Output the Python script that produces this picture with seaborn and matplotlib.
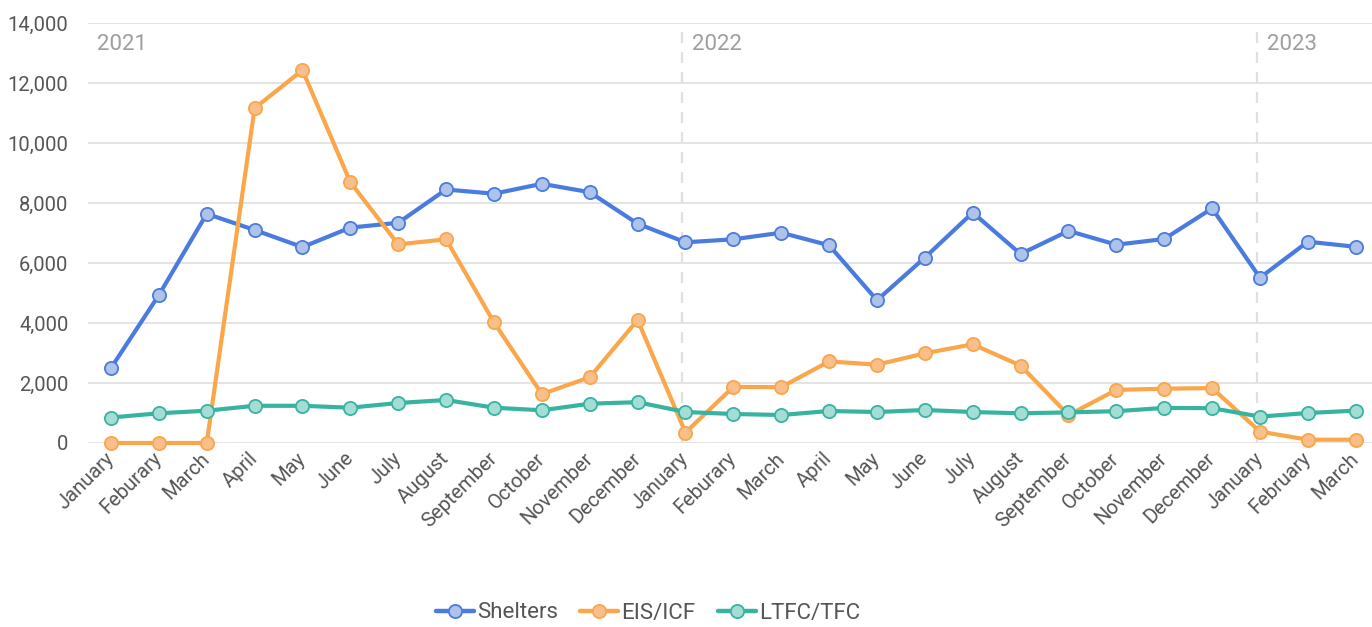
import matplotlib
matplotlib.use("Agg")
import matplotlib.pyplot as plt
import seaborn as sns
import pandas as pd
import numpy as np

months = ["January", "Feburary", "March", "April", "May", "June", "July", "August",
          "September", "October", "November", "December",
          "January", "Feburary", "March", "April", "May", "June", "July", "August",
          "September", "October", "November", "December",
          "January", "February", "March"]

shelters = [2500, 4930, 7640, 7100, 6530, 7180, 7340, 8450, 8310, 8640, 8360, 7310,
            6690, 6790, 7010, 6590, 4760, 6180, 7680, 6300, 7070, 6610, 6800, 7820,
            5510, 6710, 6540]
eis_icf = [0, 0, 0, 11160, 12430, 8690, 6620, 6790, 4020, 1630, 2190, 4100,
           350, 1870, 1860, 2720, 2610, 2990, 3290, 2580, 930, 1770, 1810, 1830,
           380, 110, 110]
ltfc_tfc = [850, 990, 1077, 1240, 1240, 1177, 1333, 1433, 1177, 1090, 1310, 1360,
            1033, 967, 933, 1067, 1033, 1100, 1033, 990, 1020, 1060, 1170, 1160,
            880, 1000, 1080]

series_names = ["Shelters", "EIS/ICF", "LTFC/TFC"]
years = ["2021", "2022", "2023"]
year_starts = [0, 12, 24]
y_ticks = [0, 2000, 4000, 6000, 8000, 10000, 12000, 14000]

line_colors = ["#4a7bde", "#faa64b", "#38b3a2"]
face_colors = ["#aec3ea", "#f9bf8b", "#a3ddd5"]

sns.set_theme(style="white")
plt.rcParams["font.family"] = ["Roboto", "DejaVu Sans"]

df = pd.DataFrame({
    "idx": np.arange(len(months)),
    "Shelters": shelters,
    "EIS/ICF": eis_icf,
    "LTFC/TFC": ltfc_tfc,
})

fig = plt.figure(figsize=(13.72, 6.27), dpi=100)
ax = fig.add_axes([88 / 1372, 1 - 443 / 627, 1 - 88 / 1372, (443 - 23) / 627])

for name, lc, fc in zip(series_names, line_colors, face_colors):
    sns.lineplot(data=df, x="idx", y=name, ax=ax, color=lc, linewidth=3.0,
                 marker="o", markersize=9.5, markerfacecolor=fc,
                 markeredgecolor=lc, markeredgewidth=1.3, label=name,
                 clip_on=False, zorder=3)

ax.set_ylim(0, 14000)
ax.set_xlim(-0.48, 26.34)
ax.set_yticks(y_ticks)
ax.set_yticklabels([f"{v:,}" for v in y_ticks])
ax.yaxis.grid(True, color="#dddddd", linewidth=1.1)
ax.xaxis.grid(False)
for s in ax.spines.values():
    s.set_visible(False)
ax.set_xlabel("")
ax.set_ylabel("")
ax.tick_params(axis="y", length=0, pad=14, labelsize=14.5, labelcolor="#555555")
ax.tick_params(axis="x", length=0, pad=9, labelsize=14.5, labelcolor="#555555")
ax.set_xticks(df["idx"])
ax.set_xticklabels(months, rotation=45, ha="right", va="center", rotation_mode="anchor")

for yr, st in zip(years, year_starts):
    if st > 0:
        ax.axvline(st - 0.07, ymin=0, ymax=(443 - 28) / 420, color="#e0e0e0",
                   linewidth=1.6, linestyle=(0, (5, 4)), zorder=1)
        tx = st - 0.07 + 10 / 47.9
    else:
        tx = -0.48 + 9 / 47.9
    ax.text(tx, 13300, yr, color="#9e9e9e", fontsize=16, ha="left", va="center")

leg = ax.legend(loc="center", bbox_to_anchor=(648 / 1372, (627 - 613) / 627),
                bbox_transform=fig.transFigure, ncol=3, frameon=False,
                fontsize=16, handlelength=1.7, handletextpad=0.15,
                columnspacing=1.0)
for t in leg.get_texts():
    t.set_color("#555555")
for h in leg.legend_handles:
    h.set_linewidth(3.2)

fig.savefig("out.png", dpi=100)
